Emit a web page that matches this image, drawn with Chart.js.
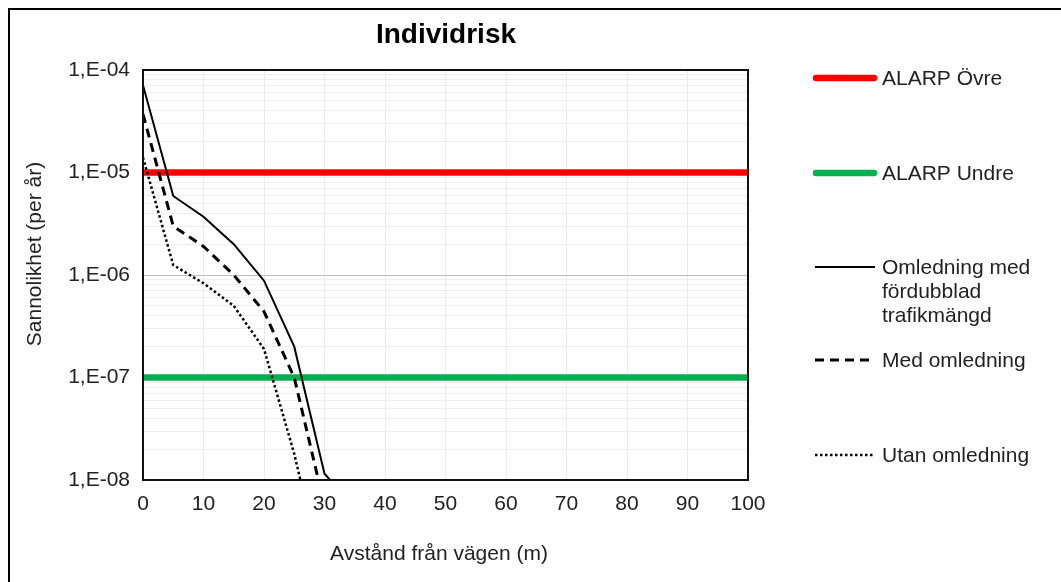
<!DOCTYPE html>
<html>
<head>
<meta charset="utf-8">
<script src="https://cdn.jsdelivr.net/npm/chart.js@4.4.1/dist/chart.umd.min.js"></script>
<style>
html, body { margin: 0; padding: 0; background: #fff; overflow: hidden; }
#wrap { position: relative; width: 1061px; height: 582px; overflow: hidden; }
#frame { position: absolute; left: 8px; top: 8px; width: 1100px; height: 620px; border-left: 2px solid #000; border-top: 2px solid #000; }
canvas { position: absolute; left: 0; top: 0; }
</style>
</head>
<body>
<div id="wrap"><div id="frame"></div><canvas id="riskChart" width="1061" height="582"></canvas></div>
<script>
// texts
var chartTitle = 'Individrisk';
var xTitle = 'Avstånd från vägen (m)';
var yTitle = 'Sannolikhet (per år)';

// data
var distances = [0, 5, 10, 15, 20, 25, 30, 35];
var dubbelTrafik = [7.1e-5, 5.9e-6, 3.7e-6, 2.0e-6, 8.8e-7, 2.0e-7, 1.15e-8, 5.5e-9];
var medOmledning = [3.7e-5, 3.0e-6, 1.9e-6, 1.0e-6, 4.4e-7, 1.0e-7, 5.6e-9, 1e-9];
var utanOmledning = [1.4e-5, 1.25e-6, 8.3e-7, 5.0e-7, 1.9e-7, 1.8e-8, 1.0e-9, 1e-10];
var alarpOvre = 1e-5;
var alarpUndre = 1e-7;
var xRange = [0, 100];

var xTicks = [0, 10, 20, 30, 40, 50, 60, 70, 80, 90, 100];
var yDecades = [-8, -7, -6, -5, -4];
var legendLabels = [['ALARP Övre'], ['ALARP Undre'], ['Omledning med', 'fördubblad', 'trafikmängd'], ['Med omledning'], ['Utan omledning']];

var FONT = "'Liberation Sans', Arial, sans-serif";

function toPoints(xs, ys) {
	var pts = [];
	for (var i = 0; i < xs.length; i++) {
		pts.push({ x: xs[i], y: ys[i] });
	}
	return pts;
}

function isDecade(v) {
	var l = Math.log10(v);
	return Math.abs(l - Math.round(l)) < 1e-6;
}

var decor = {
	id: 'decor',
	afterDraw: function(chart) {
		var ctx = chart.ctx;
		var a = chart.chartArea;
		ctx.save();
		// plot frame
		ctx.strokeStyle = '#111';
		ctx.lineWidth = 2;
		ctx.strokeRect(a.left, a.top, a.right - a.left, a.bottom - a.top);

		ctx.fillStyle = '#000';
		ctx.font = 'bold 28px ' + FONT;
		ctx.textAlign = 'center';
		ctx.textBaseline = 'alphabetic';
		ctx.fillText(chartTitle, 446, 43);

		ctx.fillStyle = '#222';
		ctx.font = '21px ' + FONT;
		ctx.fillText(xTitle, 439, 560);

		ctx.save();
		ctx.translate(41, 254);
		ctx.rotate(-Math.PI / 2);
		ctx.fillText(yTitle, 0, 0);
		ctx.restore();

		// legend
		var rows = [78, 173, 267, 360, 455];
		chart.data.datasets.forEach(function(ds, i) {
			var y = rows[i];
			ctx.save();
			ctx.strokeStyle = ds.borderColor;
			ctx.lineWidth = ds.borderWidth;
			ctx.setLineDash(ds.borderDash || []);
			ctx.lineCap = ds.borderWidth > 4 ? 'round' : 'butt';
			ctx.beginPath();
			ctx.moveTo(ds.borderWidth > 4 ? 816 : 815, y);
			ctx.lineTo(ds.borderWidth > 4 ? 874 : 875, y);
			ctx.stroke();
			ctx.restore();
			ctx.fillStyle = '#222';
			ctx.font = '21px ' + FONT;
			ctx.textAlign = 'left';
			legendLabels[i].forEach(function(line, j) {
				ctx.fillText(line, 882, y + 7 + j * 24);
			});
		});
		ctx.restore();
	}
};

var ctx = document.getElementById('riskChart');
var riskChart = new Chart(ctx, {
	type: 'line',
	data: {
		datasets: [{
			label: 'ALARP Övre',
			data: toPoints(xRange, [alarpOvre, alarpOvre]),
			borderColor: '#ff0000',
			borderWidth: 6.5,
			pointRadius: 0,
			order: 2
		}, {
			label: 'ALARP Undre',
			data: toPoints(xRange, [alarpUndre, alarpUndre]),
			borderColor: '#00b050',
			borderWidth: 6.5,
			pointRadius: 0,
			order: 2
		}, {
			label: 'Omledning med fördubblad trafikmängd',
			data: toPoints(distances, dubbelTrafik),
			borderColor: '#000',
			borderWidth: 2,
			pointRadius: 0,
			order: 1
		}, {
			label: 'Med omledning',
			data: toPoints(distances, medOmledning),
			borderColor: '#000',
			borderWidth: 3,
			borderDash: [9, 6],
			pointRadius: 0,
			order: 1
		}, {
			label: 'Utan omledning',
			data: toPoints(distances, utanOmledning),
			borderColor: '#000',
			borderWidth: 2.5,
			borderDash: [2.5, 2.5],
			pointRadius: 0,
			order: 1
		}]
	},
	options: {
		responsive: false,
		animation: false,
		devicePixelRatio: 1,
		layout: { padding: { left: 20, top: 70, right: 313, bottom: 62 } },
		plugins: {
			legend: { display: false },
			tooltip: { enabled: false },
			title: { display: false }
		},
		scales: {
			x: {
				type: 'linear',
				min: 0,
				max: 100,
				afterBuildTicks: function(scale) {
					scale.ticks = xTicks.map(function(v) { return { value: v }; });
				},
				afterFit: function(scale) { scale.height = 40; },
				ticks: { color: '#222', font: { family: FONT, size: 21 }, padding: 12, maxRotation: 0, autoSkip: false },
				grid: { color: '#ebebeb', drawTicks: false },
				border: { display: false }
			},
			y: {
				type: 'logarithmic',
				min: 1e-8,
				max: 1e-4,
				afterBuildTicks: function(scale) {
					var t = [];
					for (var i = 0; i < yDecades.length; i++) {
						var base = Math.pow(10, yDecades[i]);
						t.push({ value: base });
						if (i < yDecades.length - 1) {
							for (var m = 2; m <= 9; m++) t.push({ value: m * base });
						}
					}
					scale.ticks = t;
				},
				afterFit: function(scale) { scale.width = 123; },
				ticks: {
					color: '#222',
					font: { family: FONT, size: 21 },
					padding: 13,
					autoSkip: false,
					callback: function(v) {
						if (!isDecade(v)) return '';
						var e = Math.round(Math.log10(v));
						var s = Math.abs(e) < 10 ? '0' + Math.abs(e) : '' + Math.abs(e);
						return '1,E' + (e < 0 ? '-' : '+') + s;
					}
				},
				grid: {
					drawTicks: false,
					color: function(c) {
						return c.tick && isDecade(c.tick.value) ? '#c0c0c0' : '#efefef';
					}
				},
				border: { display: false }
			}
		}
	},
	plugins: [decor]
});
</script>
</body>
</html>
